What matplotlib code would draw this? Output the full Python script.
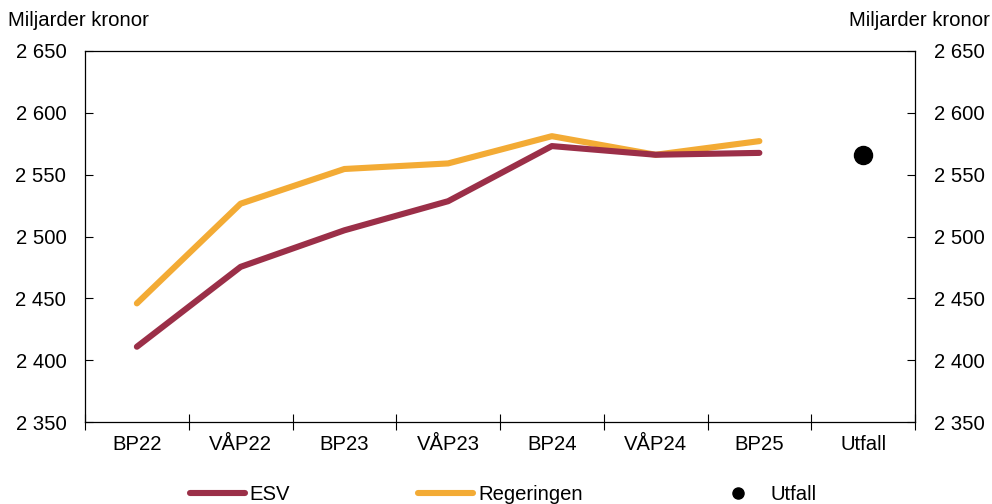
import matplotlib
matplotlib.use("Agg")
import matplotlib.pyplot as plt
from matplotlib.ticker import FixedLocator
from matplotlib.lines import Line2D

plt.rcParams['font.family'] = ['Liberation Sans', 'DejaVu Sans']

categories = ["BP22", "VÅP22", "BP23", "VÅP23", "BP24", "VÅP24", "BP25", "Utfall"]
esv = [2411, 2475.5, 2505, 2528.5, 2573, 2566, 2567.5]
regeringen = [2446, 2526.5, 2554.5, 2559, 2581, 2566, 2577]
utfall = 2565.5
y_ticks = [2350, 2400, 2450, 2500, 2550, 2600, 2650]
y_tick_labels = ["2 350", "2 400", "2 450", "2 500", "2 550", "2 600", "2 650"]
unit_label = "Miljarder kronor"

c_esv = "#9B2F48"
c_reg = "#F3AB35"
FS = 14.6

fig = plt.figure(figsize=(9.92, 5.04), dpi=100)
ax = fig.add_axes([85/992, 1 - 422.3/504, (915-85)/992, (422.3-50.7)/504])

x = list(range(len(categories)))
ax.plot(x[:len(esv)], esv, color=c_esv, lw=4.4, solid_capstyle='round', solid_joinstyle='round', zorder=3)
ax.plot(x[:len(regeringen)], regeringen, color=c_reg, lw=4.4, solid_capstyle='round', solid_joinstyle='round', zorder=2)
ax.plot([x[len(categories)-1]], [utfall], 'o', color='black', ms=13, zorder=4)

ax.set_xlim(-0.5, len(categories) - 0.5)
ax.set_ylim(y_ticks[0], y_ticks[-1])

ax.set_xticks(x)
ax.set_xticklabels(categories, fontsize=FS)
ax.xaxis.set_minor_locator(FixedLocator([i - 0.5 for i in range(len(categories) + 1)]))
ax.tick_params(axis='x', which='major', length=0, pad=9.5)
ax.tick_params(axis='x', which='minor', direction='inout', length=12, width=0.8)

ax.set_yticks(y_ticks)
ax.set_yticklabels(y_tick_labels, fontsize=FS)
ax.tick_params(axis='y', which='major', direction='in', length=5.5, width=0.8,
               left=True, right=True, labelleft=True, labelright=True, pad=13.5)

for s in ax.spines.values():
    s.set_linewidth(0.9)
    s.set_color('black')

fig.text(8/992, 1 - 21/504, unit_label, fontsize=FS, ha='left', va='center')
fig.text(990/992, 1 - 21/504, unit_label, fontsize=FS, ha='right', va='center')

handles = [
    Line2D([], [], color=c_esv, lw=4.4, solid_capstyle='round'),
    Line2D([], [], color=c_reg, lw=4.4, solid_capstyle='round'),
    Line2D([], [], color='black', marker='o', ms=8, lw=0),
]
fig.legend(handles, ["ESV", "Regeringen", "Utfall"], ncol=3, frameon=False,
           loc='center left', bbox_to_anchor=(190/992, 9/504), fontsize=FS,
           handlelength=2.7, handletextpad=0.25, columnspacing=6.3, borderpad=0,
           borderaxespad=0)

fig.savefig("out.png", dpi=100)
